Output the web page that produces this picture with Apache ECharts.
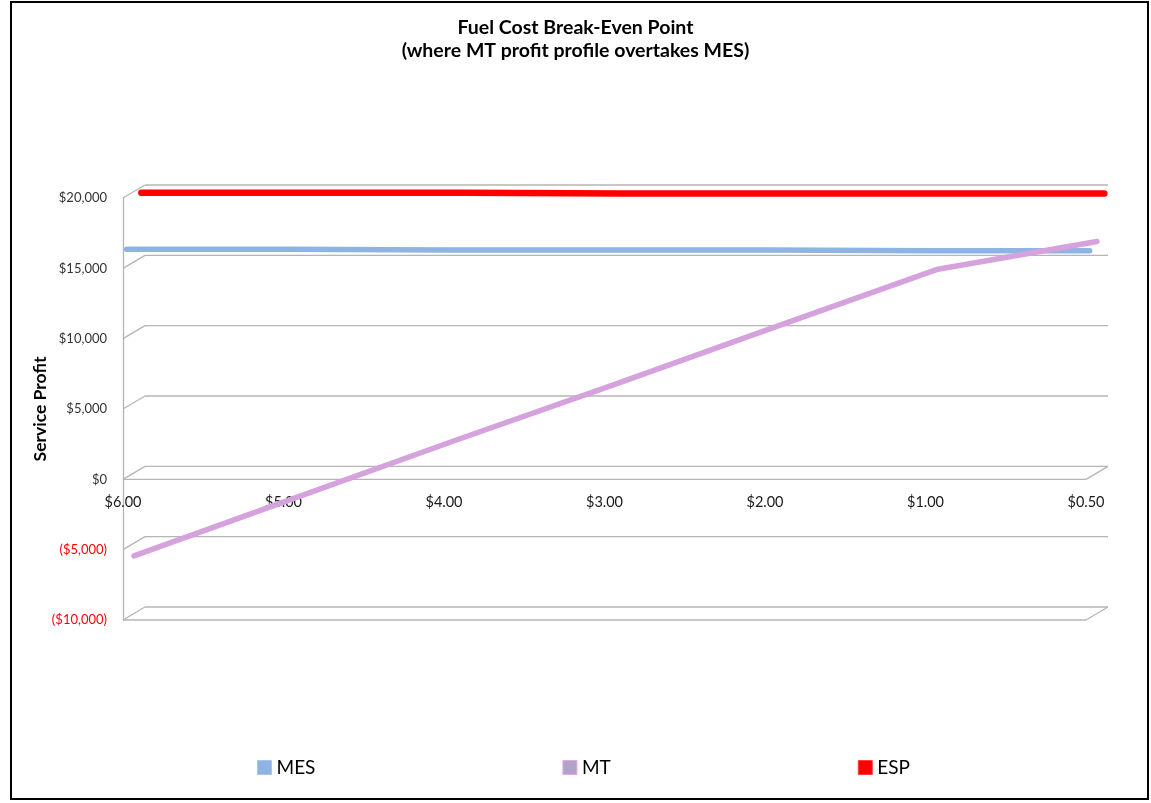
<!DOCTYPE html>
<html><head><meta charset="utf-8">
<script src="https://cdn.jsdelivr.net/npm/echarts@6/dist/echarts.min.js"></script>
<style>html,body{margin:0;padding:0;background:#fff}#c{width:1151px;height:803px}</style>
</head><body><div id="c"></div>
<script>
// ---- data ----
const categories = ['$6.00', '$5.00', '$4.00', '$3.00', '$2.00', '$1.00', '$0.50'];
const mesValues = [16200, 16200, 16150, 16150, 16150, 16100, 16100];
const mtValues = [-5900, -1800, 2300, 6300, 10400, 14450, 16450];
const espValues = [19600, 19600, 19600, 19550, 19550, 19550, 19550];
const yTicks = [-10000, -5000, 0, 5000, 10000, 15000, 20000];
const seriesNames = ['MES', 'MT', 'ESP'];

// ---- style / layout ----
const FONT = 'Lato, "Open Sans", sans-serif';
const FRONT = { left: 123, right: 65, top: 198, bottom: 183 };
const DEPTH = { dx: 22, dy: -13 };
const seriesDepth = [1 / 6, 3 / 6, 5 / 6];
const seriesColors = ['#8db4e2', '#d6a2de', '#ff0000'];
const seriesWidths = [5.5, 5.5, 6.5];
const legendColors = [
  { color: '#8db4e2', borderColor: '#a9c6ec' },
  { color: '#b3a2c7', borderColor: '#e2a9ea' },
  { color: '#ff0000', borderColor: '#ff4040' }
];
const GRIDLINE = '#b5b5b5';

const seriesData = [mesValues, mtValues, espValues];

function fmt(v) {
  const s = '$' + Math.abs(v).toLocaleString('en-US');
  return v < 0 ? '(' + s + ')' : s;
}

const grids = [Object.assign({}, FRONT)];
seriesDepth.forEach(d => {
  grids.push({
    left: FRONT.left + DEPTH.dx * d,
    right: FRONT.right - DEPTH.dx * d,
    top: FRONT.top + DEPTH.dy * d,
    bottom: FRONT.bottom - DEPTH.dy * d
  });
});

const xAxes = grids.map((g, i) => ({
  type: 'category', gridIndex: i, data: categories, boundaryGap: false,
  show: i === 0, position: 'bottom', offset: 0,
  axisLine: { show: false, onZero: false },
  axisTick: { show: false },
  axisLabel: { show: i === 0, margin: 15, fontFamily: FONT, fontSize: 14.5, color: '#1a1a1a' },
  splitLine: { show: false }
}));
const yAxes = grids.map((g, i) => ({
  type: 'value', gridIndex: i, min: -10000, max: 20000, interval: 5000,
  show: i === 0,
  name: i === 0 ? 'Service Profit' : '',
  nameLocation: 'middle', nameRotate: 90, nameGap: 74, nameMoveOverlap: false,
  nameTextStyle: { fontFamily: FONT, fontSize: 17.5, fontWeight: 'bold', color: '#000' },
  axisLine: { show: true, lineStyle: { color: GRIDLINE, width: 1.3 } },
  axisTick: { show: false },
  splitLine: { show: false },
  axisLabel: {
    margin: 16, fontFamily: FONT, fontSize: 13,
    formatter: fmt,
    color: v => (v < 0 ? '#ff0000' : '#333333')
  }
}));

const frameSeries = {
  type: 'custom', xAxisIndex: 0, yAxisIndex: 0, silent: true, z: 1, clip: false,
  data: yTicks.map(v => [0, v]),
  encode: { x: 0, y: 1 },
  renderItem: function (params, api) {
    const v = api.value(1);
    const L = api.coord([0, v]);
    const R = api.coord([categories.length - 1, v]);
    const dx = DEPTH.dx, dy = DEPTH.dy;
    const st = { stroke: GRIDLINE, lineWidth: 1.3 };
    const ch = [
      { type: 'line', shape: { x1: L[0] + dx, y1: L[1] + dy, x2: R[0] + dx, y2: R[1] + dy }, style: st },
      { type: 'line', shape: { x1: L[0], y1: L[1], x2: L[0] + dx, y2: L[1] + dy }, style: st }
    ];
    if (v === 0 || v === yTicks[0]) {
      ch.push({ type: 'line', shape: { x1: L[0], y1: L[1], x2: R[0], y2: R[1] }, style: st });
      ch.push({ type: 'line', shape: { x1: R[0], y1: R[1], x2: R[0] + dx, y2: R[1] + dy }, style: st });
    }
    return { type: 'group', children: ch };
  }
};

const lineSeries = seriesNames.map((name, i) => ({
  name: name, type: 'line', xAxisIndex: i + 1, yAxisIndex: i + 1,
  data: seriesData[i], symbol: 'none', z: 3 + i,
  color: seriesColors[i],
  lineStyle: { color: seriesColors[i], width: seriesWidths[i], cap: 'round', join: 'round' },
  itemStyle: { color: seriesColors[i] }
}));

const chart = echarts.init(document.getElementById('c'), null, { renderer: 'canvas' });
chart.setOption({
  animation: false,
  backgroundColor: '#ffffff',
  title: {
    text: 'Fuel Cost Break-Even Point\n(where MT profit profile overtakes MES)',
    left: 'center', top: 11,
    textStyle: { fontFamily: FONT, fontSize: 19.5, fontWeight: 'bold', color: '#000', lineHeight: 23 }
  },
  legend: {
    left: 252, top: 753, icon: 'rect', itemWidth: 14, itemHeight: 14, itemGap: 247,
    textStyle: { fontFamily: FONT, fontSize: 19, color: '#000' },
    data: seriesNames.map((n, i) => ({ name: n, itemStyle: Object.assign({ borderWidth: 1 }, legendColors[i]) }))
  },
  graphic: [{
    type: 'rect', silent: true, z: 100,
    shape: { x: 11, y: 2, width: 1137, height: 797 },
    style: { fill: 'none', stroke: '#000', lineWidth: 2 }
  }],
  grid: grids,
  xAxis: xAxes,
  yAxis: yAxes,
  series: [frameSeries].concat(lineSeries)
});

// move the category labels up to the zero line, using the value scale
const pZero = chart.convertToPixel({ gridIndex: 0 }, [0, 0]);
const pMin = chart.convertToPixel({ gridIndex: 0 }, [0, yTicks[0]]);
chart.setOption({ xAxis: [{ offset: -(pMin[1] - pZero[1]) }] });
</script>
</body></html>
